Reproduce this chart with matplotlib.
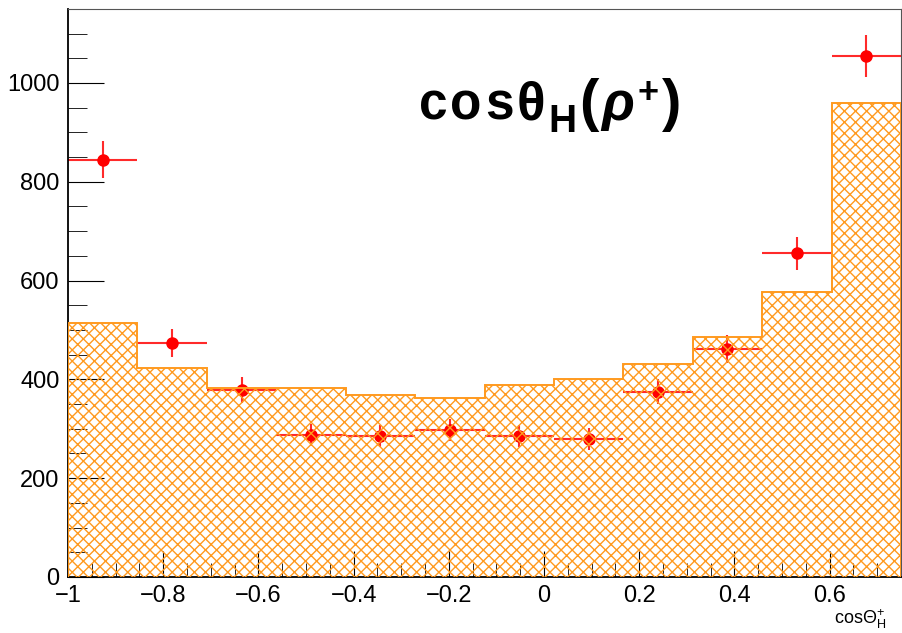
import numpy as np
import matplotlib.pyplot as plt
from matplotlib.ticker import MultipleLocator, FuncFormatter

plt.rcParams['font.family'] = ['Liberation Sans', 'DejaVu Sans']
plt.rcParams['mathtext.fontset'] = 'custom'
plt.rcParams['mathtext.rm'] = 'Liberation Sans'
plt.rcParams['mathtext.it'] = 'Liberation Sans:italic'
plt.rcParams['mathtext.bf'] = 'Liberation Sans:bold'
plt.rcParams['hatch.linewidth'] = 1.0

# 12 bins from -1 to 0.75
edges = np.linspace(-1, 0.75, 13)
centers = 0.5 * (edges[:-1] + edges[1:])

# expected (hatched histogram)
mc = [514, 423, 383, 383, 368, 362, 388, 400, 431, 486, 577, 959]
# data points and their errors
data = [845, 474, 378, 288, 285, 297, 285, 279, 375, 462, 655, 1055]
err = [37, 28, 26, 22, 22, 22, 22, 22, 25, 28, 34, 42]

fig = plt.figure(figsize=(9.02, 6.33), dpi=100)
ax = fig.add_axes([0.0754, 0.0885, 0.9235, 0.8975])

ax.errorbar(centers, data, yerr=err, xerr=np.diff(edges) / 2, fmt='o',
            color='red', ecolor='#ff2a2a', ms=8, elinewidth=1.5, capsize=0,
            zorder=2)
ax.stairs(mc, edges, fill=True, facecolor='none', edgecolor='#ff9a1f',
          hatch='xxx', linewidth=1.4, zorder=3)

ax.set_xlim(-1, 0.75)
ax.set_ylim(0, 1150)
ax.xaxis.set_major_locator(MultipleLocator(0.2))
ax.xaxis.set_minor_locator(MultipleLocator(0.05))
ax.yaxis.set_major_locator(MultipleLocator(200))
ax.yaxis.set_minor_locator(MultipleLocator(50))
ax.xaxis.set_major_formatter(FuncFormatter(
    lambda v, p: ('%g' % round(v, 2)).replace('-', '\u2212')))
ax.tick_params(which='both', direction='in', top=False, right=False,
               labelsize=17, colors='black')
ax.tick_params(axis='x', which='major', length=19, pad=6)
ax.tick_params(axis='x', which='minor', length=10)
ax.tick_params(axis='y', which='major', length=26, pad=6)
ax.tick_params(axis='y', which='minor', length=14)
for s in ['top', 'right']:
    ax.spines[s].set_color('#555555')
ax.spines['left'].set_linewidth(1.3)
ax.spines['bottom'].set_linewidth(1.3)

# title built piece by piece (big subscript / superscript like ROOT's TLatex)
pieces = [('c', 37, 0, 'normal'), ('o', 37, 0, 'normal'),
          ('s', 37, 0, 'normal'), ('θ', 38, 0, 'normal'),
          ('H', 28, -12, 'normal'), ('(', 42, 0, 'normal'),
          ('ρ', 39, 0, 'italic'), ('+', 26, 17, 'normal'),
          (')', 42, 0, 'normal')]
renderer = fig.canvas.get_renderer()
x0, base = 419, 633 - 120
for txt, size, dy, style in pieces:
    t = fig.text(x0, base + dy, txt, transform=None, fontsize=size,
                 fontweight='bold', fontstyle=style, ha='left', va='baseline')
    x0 = t.get_window_extent(renderer).x1 + 3

ax.text(0.982, -0.075, r'cos$\Theta^{+}_{\mathrm{H}}$', transform=ax.transAxes,
        fontsize=13, ha='right', va='center')

fig.savefig('out.png', dpi=100)
